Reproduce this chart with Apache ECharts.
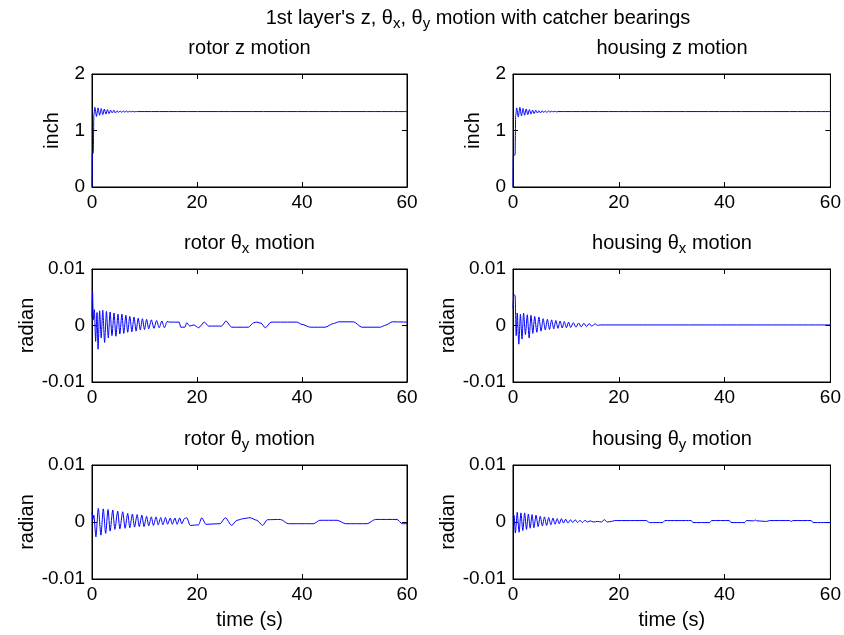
<!DOCTYPE html>
<html><head><meta charset="utf-8">
<script src="https://cdn.jsdelivr.net/npm/echarts@6/dist/echarts.min.js"></script>
<style>html,body{margin:0;padding:0;background:#fff}#c{width:844px;height:635px}</style>
</head><body><div id="c"></div>
<script>
// ---- tick values ----
const xTicks = [0, 20, 40, 60];
const zTicks = [0, 1, 2];
const angTicks = [-0.01, 0, 0.01];

// ---- series: [time (s), value] ----
const rotorZ = [[0,0],[0.05,0.58],[0.25,0.6],[0.35,1.27],[0.55,1.41],[0.85,1.25],[1.15,1.40],[1.45,1.27],[1.75,1.39],[2.05,1.28],[2.35,1.38],[2.65,1.29],[2.95,1.37],[3.25,1.30],[3.55,1.36],[3.85,1.31],[4.15,1.36],[4.45,1.31],[4.75,1.35],[5.05,1.32],[5.35,1.35],[5.65,1.32],[5.95,1.345],[6.25,1.325],[6.55,1.345],[6.85,1.325],[7.15,1.34],[7.45,1.33],[7.75,1.34],[8.05,1.33],[8.35,1.335],[8.65,1.335],[60,1.335]];

const housingZ = [[0,0],[0.05,0.55],[0.4,0.57],[0.5,1.26],[0.7,1.40],[1.0,1.24],[1.3,1.41],[1.6,1.26],[1.9,1.39],[2.2,1.27],[2.5,1.38],[2.8,1.28],[3.1,1.37],[3.4,1.29],[3.7,1.36],[4.0,1.30],[4.3,1.36],[4.6,1.31],[4.9,1.35],[5.2,1.31],[5.5,1.35],[5.8,1.32],[6.1,1.345],[6.4,1.32],[6.7,1.345],[7.0,1.325],[7.3,1.34],[7.6,1.33],[7.9,1.34],[8.2,1.33],[8.5,1.335],[60,1.335]];

const rotorThetaX = [[0,0.0015],[0.1,0.0060],[0.25,0.0010],[0.45,0.0028],[0.7,-0.0028],[0.95,0.0023],[1.15,-0.0042],[1.45,0.0026],[1.75,-0.0022],[2.05,0.0027],[2.4,-0.0030],[2.75,0.0025],[3.1,-0.0022],[3.45,0.0024],[3.8,-0.0018],[4.2,0.0022],[4.55,-0.0019],[4.95,0.0020],[5.3,-0.0015],[5.7,0.0020],[6.05,-0.0014],[6.45,0.0018],[6.8,-0.0012],[7.2,0.0016],[7.6,-0.0011],[8.0,0.0015],[8.4,-0.0010],[8.8,0.0013],[9.2,-0.0008],[9.6,0.0012],[10.0,-0.0007],[10.4,0.0011],[10.8,-0.0006],[11.3,0.0010],[11.8,-0.0005],[12.3,0.0009],[12.8,-0.0004],[13.3,0.0008],[13.8,-0.0004],[14.3,0.0007],[14.8,0.0006],[16.6,0.0006],[16.9,-0.0003],[17.7,-0.0003],[18.05,0.0005],[18.6,-0.0001],[19.4,0.0001],[20.3,-0.0004],[21.4,0.0006],[22.2,-0.0001],[24.7,-0.0001],[25.5,0.0008],[26.6,-0.0003],[29.8,-0.0003],[30.8,0.0005],[31.4,0.0006],[32.2,0.0004],[33.0,-0.0004],[34.1,0.0006],[39.0,0.0006],[40.0,0.0002],[41.6,-0.0003],[44.4,-0.0003],[46.0,0.00035],[47.0,0.00065],[49.8,0.00065],[51.4,-0.0003],[54.9,-0.0003],[55.9,0.00005],[57.2,0.00065],[60,0.0006]];

const housingThetaX = [[0,0.0030],[0.15,0.0055],[0.4,0.0053],[0.6,-0.0018],[0.8,0.0022],[1.1,-0.0033],[1.4,0.0020],[1.7,-0.0024],[2.0,0.0022],[2.35,-0.0016],[2.7,0.0019],[3.05,-0.0022],[3.4,0.0018],[3.75,-0.0014],[4.1,0.0016],[4.5,-0.0012],[4.9,0.0015],[5.3,-0.0010],[5.7,0.0012],[6.1,-0.0008],[6.5,0.0011],[6.9,-0.0007],[7.3,0.0010],[7.7,-0.0006],[8.1,0.0009],[8.5,-0.0005],[8.9,0.0008],[9.3,-0.00045],[9.7,0.0007],[10.1,-0.0004],[10.5,0.0006],[10.9,-0.00035],[11.4,0.0005],[11.9,-0.0003],[12.4,0.00045],[12.9,-0.00025],[13.4,0.0004],[13.9,-0.0002],[14.4,0.00035],[14.9,-0.00015],[15.5,0.0003],[16.0,0.0],[16.4,0.0001],[60,0.0001]];

const rotorThetaY = [[0,0.0017],[0.2,0.0005],[0.35,0.0012],[0.75,-0.0026],[1.2,0.0024],[1.7,-0.0023],[2.15,0.0023],[2.6,-0.0020],[3.05,0.0022],[3.45,-0.0016],[3.95,0.0021],[4.35,-0.0013],[4.9,0.0019],[5.3,-0.0012],[5.85,0.0018],[6.3,-0.0011],[6.8,0.0015],[7.2,-0.0010],[7.7,0.0014],[8.1,-0.0009],[8.6,0.0013],[9.0,-0.0008],[9.5,0.0012],[9.9,-0.0008],[10.4,0.0010],[10.8,-0.0007],[11.3,0.0009],[11.7,-0.0006],[12.2,0.0009],[12.6,-0.0005],[13.1,0.0008],[13.5,-0.0005],[14.0,0.0008],[14.4,-0.0004],[14.9,0.0007],[15.3,-0.0004],[15.8,0.0007],[16.2,-0.0004],[16.7,0.0007],[17.1,-0.0003],[17.6,0.0006],[18.05,0.00075],[18.7,-0.0006],[20.3,-0.0005],[20.9,0.00075],[21.7,-0.0004],[24.4,-0.0003],[25.4,0.00075],[26.6,-0.0006],[27.6,0.0003],[28.9,0.0006],[30.1,0.00075],[31.4,0.0003],[32.5,-0.0006],[33.4,0.0004],[35.9,0.00045],[37.4,-0.0003],[42.2,-0.0003],[43.4,0.0003],[46.7,0.0003],[48.3,-0.0003],[52.4,-0.0003],[54.0,0.00045],[58.1,0.00045],[59.1,-0.0003],[60,-0.0003]];

const housingThetaY = [[0,0.0009],[0.2,0.0012],[0.45,-0.0019],[0.8,0.0017],[1.15,-0.0018],[1.5,0.0016],[1.85,-0.0015],[2.2,0.0016],[2.55,-0.0013],[2.9,0.0014],[3.25,-0.0011],[3.6,0.0013],[3.95,-0.0010],[4.35,0.0012],[4.75,-0.0008],[5.15,0.0010],[5.55,-0.0007],[5.95,0.0009],[6.35,-0.0006],[6.75,0.0008],[7.15,-0.0005],[7.55,0.0007],[7.95,-0.0004],[8.35,0.0006],[8.75,-0.0003],[9.15,0.0006],[9.55,-0.0002],[9.95,0.0005],[10.4,-0.0002],[10.85,0.0004],[11.3,-0.0001],[11.75,0.0004],[12.2,-0.0001],[12.65,0.0003],[13.1,-0.0001],[13.6,0.0003],[14.1,0.0],[14.6,0.0002],[15.2,0.0],[16.0,0.0001],[16.7,0.0],[17.3,0.0004],[17.8,0.0],[18.6,0.0001],[19.2,0.00025],[25.2,0.00025],[25.8,-0.0001],[28.3,-0.0001],[28.7,0.00025],[33.7,0.00025],[34.0,-0.0001],[37.2,-0.0001],[37.5,0.00025],[40.9,0.00025],[41.2,-0.0001],[43.8,-0.0001],[44.1,0.00025],[45.5,0.0002],[45.8,0.00035],[46.1,0.0002],[47.9,0.0001],[48.5,0.00025],[52.3,0.00025],[52.6,0.0001],[52.9,0.00025],[56.4,0.00025],[56.7,-0.0001],[60,-0.0001]];

// ---- text ----
const mainTitle = "{n|1st layer's z, θ}{s|x}{n|, θ}{s|y}{n| motion with catcher bearings}";
const panelTitles = [
  "{n|rotor z motion}", "{n|housing z motion}",
  "{n|rotor θ}{s|x}{n| motion}", "{n|housing θ}{s|x}{n| motion}",
  "{n|rotor θ}{s|y}{n| motion}", "{n|housing θ}{s|y}{n| motion}"
];
const yLabels = ["inch", "inch", "radian", "radian", "radian", "radian"];
const xLabel = "time (s)";

// ---- layout ----
const FONT = "'Liberation Sans', Arial, Helvetica, sans-serif";
const cols = [{left: 92, width: 315}, {left: 513, width: 318}];
const rows = [{top: 74, height: 113}, {top: 269, height: 113}, {top: 465, height: 114}];
const seriesData = [rotorZ, housingZ, rotorThetaX, housingThetaX, rotorThetaY, housingThetaY];

const rich = {
  n: {fontSize: 20, fontFamily: FONT, color: '#000'},
  s: {fontSize: 15, fontFamily: FONT, color: '#000', padding: [12, 0, 0, 0]}
};

const grids = [], xAxes = [], yAxes = [], series = [], graphics = [];
const tickStyle = {show: true, inside: true, length: 5, lineStyle: {color: '#000', width: 1}};
const lineStyleAx = {show: true, onZero: false, lineStyle: {color: '#000', width: 1}};

for (let i = 0; i < 6; i++) {
  const r = Math.floor(i / 2), c = i % 2;
  grids.push({left: cols[c].left, top: rows[r].top, width: cols[c].width, height: rows[r].height,
    show: true, borderColor: '#000', borderWidth: 1, backgroundColor: '#fff', containLabel: false});
  const yt = r === 0 ? zTicks : angTicks;
  const ymin = yt[0], ymax = yt[yt.length - 1], yint = yt[1] - yt[0];
  xAxes.push({type: 'value', gridIndex: i, position: 'bottom', min: xTicks[0], max: xTicks[xTicks.length - 1], interval: xTicks[1] - xTicks[0],
    axisLine: lineStyleAx, axisTick: tickStyle, splitLine: {show: false},
    axisLabel: {color: '#000', fontSize: 19, fontFamily: FONT, margin: 6},
    name: r === 2 ? xLabel : '', nameLocation: 'middle', nameGap: 31,
    nameTextStyle: {color: '#000', fontSize: 20, fontFamily: FONT}});
  xAxes.push({type: 'value', gridIndex: i, position: 'top', min: xTicks[0], max: xTicks[xTicks.length - 1], interval: xTicks[1] - xTicks[0],
    axisLine: lineStyleAx, axisTick: tickStyle, splitLine: {show: false}, axisLabel: {show: false}});
  yAxes.push({type: 'value', gridIndex: i, position: 'left', min: ymin, max: ymax, interval: yint,
    axisLine: lineStyleAx, axisTick: tickStyle, splitLine: {show: false},
    axisLabel: {color: '#000', fontSize: 19, fontFamily: FONT, margin: 7},
    name: yLabels[i], nameLocation: 'middle', nameRotate: 90, nameGap: r === 0 ? 30 : 50,
    nameTextStyle: {color: '#000', fontSize: 20, fontFamily: FONT}});
  yAxes.push({type: 'value', gridIndex: i, position: 'right', min: ymin, max: ymax, interval: yint,
    axisLine: lineStyleAx, axisTick: tickStyle, splitLine: {show: false}, axisLabel: {show: false}});
  series.push({type: 'line', xAxisIndex: 2 * i, yAxisIndex: 2 * i, data: seriesData[i], showSymbol: false,
    symbol: 'none', smooth: 0.25, smoothMonotone: 'x', lineStyle: {color: '#0000ff', width: 1}, silent: true, z: 5});
  graphics.push({type: 'text', x: cols[c].left + cols[c].width / 2, y: rows[r].top - 26,
    style: {text: panelTitles[i], rich: rich, align: 'center', verticalAlign: 'middle', fill: '#000', fontSize: 20, fontFamily: FONT}});
}
graphics.push({type: 'text', x: 478, y: 18,
  style: {text: mainTitle, rich: rich, align: 'center', verticalAlign: 'middle', fill: '#000', fontSize: 20, fontFamily: FONT}});

const chart = echarts.init(document.getElementById('c'), null, {renderer: 'canvas'});
chart.setOption({
  animation: false,
  backgroundColor: '#fff',
  grid: grids, xAxis: xAxes, yAxis: yAxes, series: series, graphic: graphics
});
</script></body></html>
